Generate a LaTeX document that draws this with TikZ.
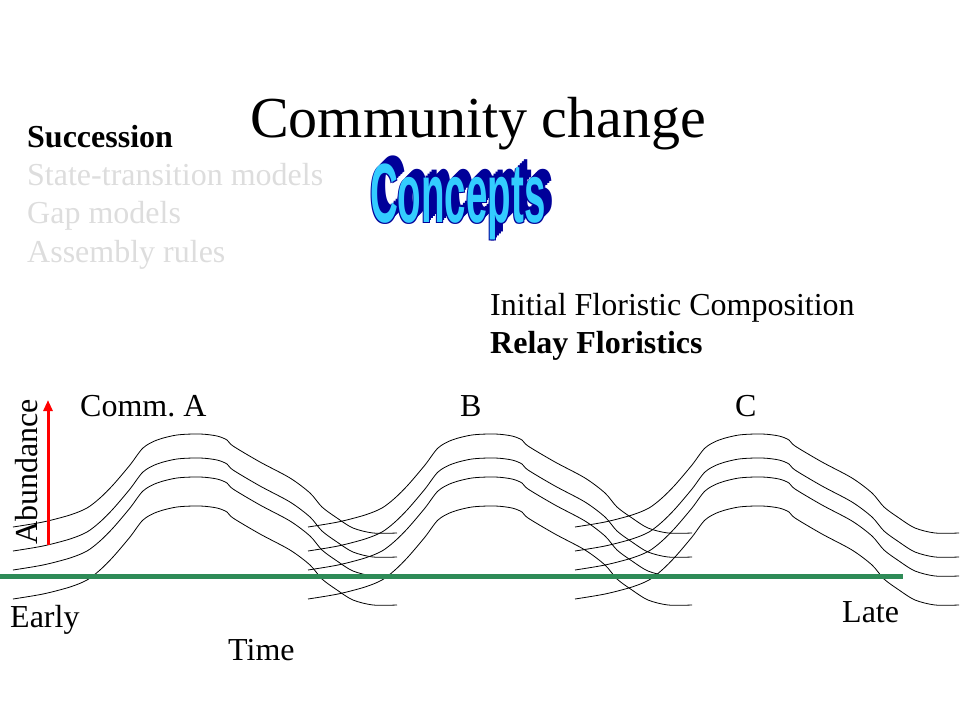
\documentclass[tikz,border=0pt]{standalone}
\usepackage{fontspec}
\setmainfont{Liberation Serif}
\newfontfamily\wordartfont{Liberation Sans}
\usetikzlibrary{arrows.meta, positioning}
\definecolor{navy}{RGB}{0,0,153}
\definecolor{skyblue}{RGB}{51,204,255}
\definecolor{seagreen}{RGB}{46,139,87}
\definecolor{faded}{RGB}{221,221,221}

\begin{document}
\begin{tikzpicture}[x=1pt, y=-1pt,
  txt/.style={inner sep=0pt, anchor=base west, font=\fontsize{32}{36}\selectfont},
  wordart/.style={inner sep=0pt, anchor=base west, xscale=.55, yscale=1.2,
    font=\wordartfont\bfseries\fontsize{70}{70}\selectfont},
  hump/.style={line width=.8pt}]
  \useasboundingbox (0,0) rectangle (960,720);

  \node[txt, font=\fontsize{58}{60}\selectfont](title) at (250,137) {Community change};
  \node[txt](succ) at (27,147) {\textbf{Succession}};
  \node[txt, text=faded](stm) at (27,185) {State-transition models};
  \node[txt, text=faded](gap) at (27,223) {Gap models};
  \node[txt, text=faded](asm) at (27,262) {Assembly rules};

  \foreach \dx/\dy [count=\i] in {-1/1,1/1,2/-2,4/-4,6/-6,8/-8}
    \node[wordart, text=navy](shade\i) at (370+\dx,222+\dy) {Concepts};
  \node[wordart, text=skyblue](concepts) at (370,222) {Concepts};

  \node[txt](ifc) at (490,315) {Initial Floristic Composition};
  \node[txt](relay) at (490,353) {\textbf{Relay Floristics}};

  \node[txt](commA) at (80,416) {Comm.~A};
  \node[txt](commB) at (460,416) {B};
  \node[txt](commC) at (735,416) {C};

  \foreach \gx in {0,295,562}
    \foreach \dy in {0,24,43,72}
      \draw[hump, shift={(\gx,\dy)}] plot[smooth, tension=.5] coordinates {
        (13,527) (43,522) (70,515) (87,508) (100,498) (113,485) (130,465)
        (143,448) (157,440) (177,435) (200,434) (217,436) (227,440) (233,446)
        (260,462) (290,478) (310,493) (322,507) (337,518) (353,528) (373,533)
        (397,533)};

  \coordinate (g0) at (0,576);
  \coordinate (g1) at (903,576);
  \draw[seagreen, line width=5pt] (g0) -- (g1);

  \coordinate (a0) at (48,545);
  \coordinate (a1) at (48,400);
  \draw[red, line width=3pt, -{Triangle[length=11pt, width=9pt]}] (a0) -- (a1);

  \node[txt, rotate=90](abund) at (37,545) {Abundance};
  \node[txt](early) at (10,627) {Early};
  \node[txt](late) at (842,622) {Late};
  \node[txt](time) at (228,660) {Time};
\end{tikzpicture}
\end{document}
